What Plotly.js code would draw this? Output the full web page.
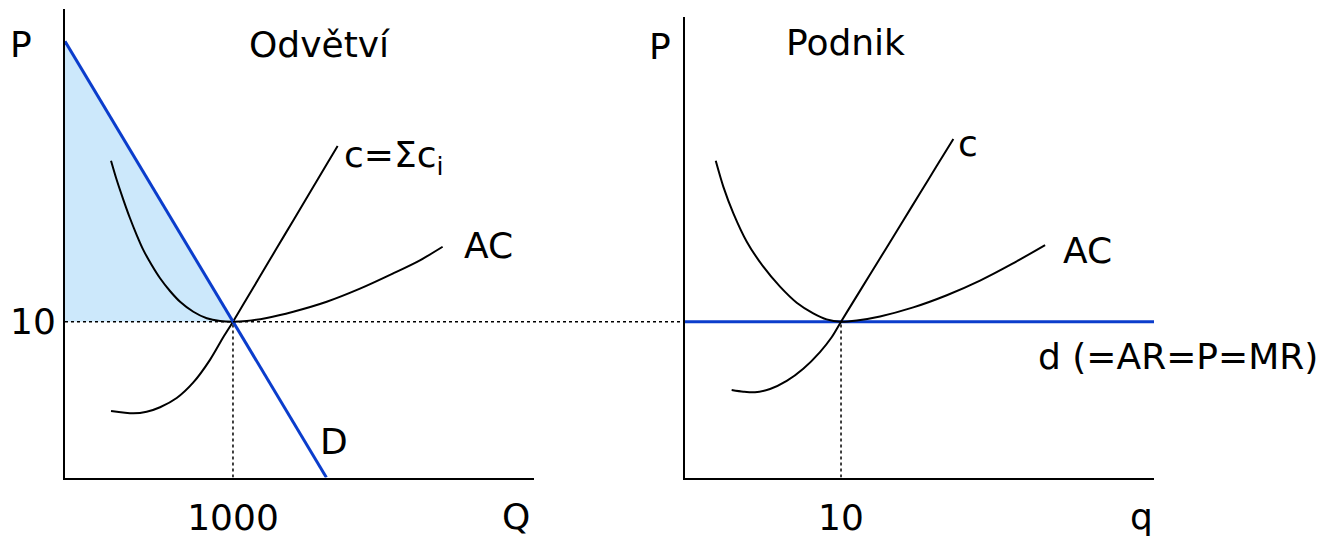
<!DOCTYPE html>
<html>
<head>
<meta charset="utf-8">
<script src="https://cdn.plot.ly/plotly-3.0.1.min.js"></script>
<style>html,body{margin:0;padding:0;background:#fff;}#chart{width:1333px;height:540px;}</style>
</head>
<body>
<div id="chart"></div>
<script>
// ---- Industry (Odvětví) ----
const industryQ_AC = [274, 308, 347, 387, 427, 466, 516, 566, 625, 685, 764, 844, 923, 1000, 1082, 1201, 1359, 1558, 1756, 1954, 2113, 2248];
const industryP_AC = [20.33, 19.09, 17.84, 16.64, 15.56, 14.61, 13.64, 12.79, 11.97, 11.28, 10.64, 10.22, 10.04, 10, 10.05, 10.24, 10.64, 11.28, 12.12, 13.1, 13.94, 14.81];
const industryQ_C = [274, 407, 486, 566, 665, 764, 863, 942, 1000, 1061, 1161, 1260, 1359, 1458, 1558, 1623];
const industryP_C = [4.27, 4.12, 4.22, 4.51, 5.1, 6.1, 7.55, 9.0, 10, 11.1, 12.91, 14.71, 16.5, 18.29, 20.1, 21.28];
const demandQ = [0, 1556];
const demandP = [28, 0];
const eqQ = 1000;
const eqP = 10;

// ---- Firm (Podnik) ----
const firmQ_AC = [1.97, 2.46, 3.10, 3.96, 5.02, 6.09, 7.16, 8.22, 9.08, 10, 11.01, 12.5, 14.63, 16.78, 18.91, 20.96, 23.08];
const firmP_AC = [20.33, 18.66, 16.96, 15.14, 13.53, 12.25, 11.22, 10.54, 10.15, 10, 10.08, 10.34, 10.92, 11.7, 12.64, 13.71, 14.92];
const firmQ_C = [2.99, 3.74, 4.49, 5.45, 6.52, 7.58, 8.65, 9.4, 10, 10.79, 11.86, 12.93, 13.99, 15.06, 16.13, 17.2];
const firmP_C = [5.62, 5.51, 5.47, 5.68, 6.2, 6.98, 8.05, 9.0, 10, 11.29, 13.03, 14.77, 16.5, 18.24, 19.99, 21.73];
const firmQeq = 10;
const firmDemandQ = [0, 30.06];

const W = 1333, H = 540;
const px = x => x / W;
const py = y => 1 - y / H;
const FONT = "DejaVu Sans";
const BLUE = "#0b3dcc";

const curve = {color: '#000', width: 2, shape: 'spline', smoothing: 0.8};

const traces = [
  // consumer surplus area
  {x: [0, eqQ, 0], y: [demandP[0], eqP, eqP], xaxis: 'x', yaxis: 'y', mode: 'lines', fill: 'toself',
   fillcolor: '#cce8fb', line: {width: 0}, hoverinfo: 'skip', showlegend: false},
  {x: [eqQ, eqQ], y: [0, eqP], xaxis: 'x', yaxis: 'y', mode: 'lines',
   line: {color: '#000', width: 1.5, dash: 'dot'}, showlegend: false},
  {x: industryQ_AC, y: industryP_AC, xaxis: 'x', yaxis: 'y', mode: 'lines', line: curve, showlegend: false},
  {x: industryQ_C, y: industryP_C, xaxis: 'x', yaxis: 'y', mode: 'lines', line: curve, showlegend: false},
  {x: demandQ, y: demandP, xaxis: 'x', yaxis: 'y', mode: 'lines',
   line: {color: BLUE, width: 3}, showlegend: false},

  {x: [firmQeq, firmQeq], y: [0, eqP], xaxis: 'x2', yaxis: 'y2', mode: 'lines',
   line: {color: '#000', width: 1.5, dash: 'dot'}, showlegend: false},
  {x: firmDemandQ, y: [eqP, eqP], xaxis: 'x2', yaxis: 'y2', mode: 'lines',
   line: {color: BLUE, width: 3}, showlegend: false},
  {x: firmQ_AC, y: firmP_AC, xaxis: 'x2', yaxis: 'y2', mode: 'lines', line: curve, showlegend: false},
  {x: firmQ_C, y: firmP_C, xaxis: 'x2', yaxis: 'y2', mode: 'lines', line: curve, showlegend: false}
];

const axBase = {showline: true, linecolor: '#000', linewidth: 2, showgrid: false, zeroline: false,
  ticks: '', tickfont: {family: FONT, size: 36, color: '#000'}, fixedrange: true};

const ann = (text, x, y, extra) => Object.assign({text: text, x: px(x), y: py(y), xref: 'paper', yref: 'paper',
  showarrow: false, xanchor: 'center', yanchor: 'middle', font: {family: FONT, size: 36, color: '#000'}}, extra || {});

const layout = {
  width: W, height: H, margin: {l: 0, r: 0, t: 0, b: 0},
  paper_bgcolor: '#fff', plot_bgcolor: 'rgba(0,0,0,0)', showlegend: false,
  xaxis: Object.assign({}, axBase, {domain: [px(65), px(534)], range: [0, 2792], anchor: 'y',
    tickvals: [eqQ], ticktext: ['1000'], ticklabelstandoff: 7}),
  yaxis: Object.assign({}, axBase, {domain: [1 - 477.5 / H, 1 - 9 / H], range: [0, 30.07], anchor: 'x',
    tickvals: [eqP], ticktext: ['10'], ticklabelstandoff: 0}),
  xaxis2: Object.assign({}, axBase, {domain: [px(685), px(1154)], range: [0, 30.06], anchor: 'y2',
    tickvals: [firmQeq], ticktext: ['10'], ticklabelstandoff: 7}),
  yaxis2: Object.assign({}, axBase, {domain: [1 - 477.5 / H, 1 - 17 / H], range: [0, 29.56], anchor: 'x2',
    showticklabels: false}),
  shapes: [
    {type: 'line', xref: 'paper', yref: 'y', x0: px(65), x1: px(685), y0: eqP, y1: eqP,
     line: {color: '#000', width: 1.5, dash: 'dot'}, layer: 'above'}
  ],
  annotations: [
    ann('P', 21, 44),
    ann('Odvětví', 319, 44),
    ann('c=Σc<sub>i</sub>', 342, 158, {xanchor: 'left'}),
    ann('AC', 488, 245),
    ann('D', 334, 441),
    ann('Q', 516, 516),
    ann('P', 660, 47),
    ann('Podnik', 845, 43),
    ann('c', 968, 143),
    ann('AC', 1087, 250),
    ann('d (=AR=P=MR)', 1178, 356),
    ann('q', 1141, 516)
  ]
};

Plotly.newPlot('chart', traces, layout, {staticPlot: true, displayModeBar: false});
</script>
</body>
</html>
